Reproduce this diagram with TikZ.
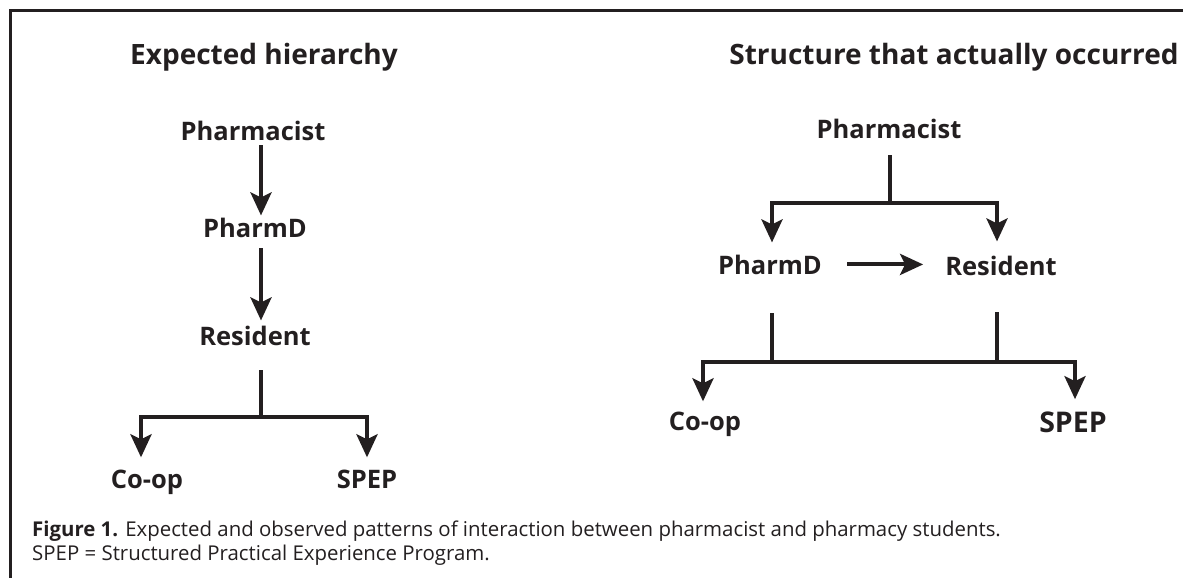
\documentclass[tikz,border=0pt]{standalone}
\usepackage{fontspec}
\setmainfont{Open Sans}
\usetikzlibrary{arrows.meta}
\definecolor{tisk}{HTML}{231F20}
\begin{document}
\begin{tikzpicture}[x=1pt,y=-1pt]
	\tikzstyle{role} = [font=\bfseries\fontsize{25.5}{30}\selectfont, text=tisk, anchor=base, inner sep=0pt]
	\tikzstyle{nadpis} = [font=\bfseries\fontsize{28}{34}\selectfont, text=tisk, anchor=base, inner sep=0pt]
	\tikzstyle{popis} = [font=\fontsize{20.4}{24}\selectfont, text=tisk, anchor=base west, inner sep=0pt]
	\tikzstyle{link} = [draw=tisk, line width=4pt]
	\tikzstyle{arrow} = [link, -{Stealth[length=23pt,width=21pt,inset=5pt]}]
	\useasboundingbox (0,0) rectangle (1183,578);
	\draw [tisk, line width=2.7pt] (1183,10.5) -- (10.5,10.5) -- (10.5,578);

	% expected hierarchy
	\node (ltitle) [nadpis] at (264,65) {Expected hierarchy};
	\node (lph) [role] at (253,140) {Pharmacist};
	\node (lpd) [role] at (255,237) {PharmD};
	\node (lres) [role] at (255,345) {Resident};
	\node (lcoop) [role] at (147,488) {Co-op};
	\node (lspep) [role] at (367,488) {SPEP};
	\coordinate (lsplit) at (261,417);

	\draw [arrow, shorten <=5pt, shorten >=2pt] (lph.south -| lsplit) -- (lpd.north -| lsplit);
	\draw [arrow, shorten <=11pt, shorten >=5pt] (lpd.south -| lsplit) -- (lres.north -| lsplit);
	\draw [link, shorten <=25pt] (lres.south -| lsplit) -- (lsplit);
	\draw [arrow, shorten >=12pt] (lsplit) -| ([xshift=-6pt]lcoop.north);
	\draw [arrow, shorten >=12pt] (lsplit) -| (lspep.north);

	% what actually happened
	\node (rtitle) [nadpis] at (954,65) {Structure that actually occurred};
	\node (rph) [role] at (889,138) {Pharmacist};
	\node (rpd) [role] at (770,274) {PharmD};
	\node (rres) [role] at (1001,275) {Resident};
	\node (rcoop) [role] at (705,430) {Co-op};
	\node (rspep) [role, font=\bfseries\fontsize{28.5}{34}\selectfont] at (1073,432) {SPEP};
	\coordinate (rsplit) at (890,203);
	\coordinate (rjoinA) at (772,362);
	\coordinate (rjoinB) at (997,362);

	\draw [link, shorten <=17pt] (rph.south -| rsplit) -- (rsplit);
	\draw [arrow, shorten >=12pt] (rsplit) -| ([xshift=2pt]rpd.north);
	\draw [arrow, shorten >=14pt] (rsplit) -| ([xshift=-4pt]rres.north);
	\draw [arrow, shorten <=25pt, shorten >=22pt] (rpd.east) -- (rpd.east -| rres.west);
	\draw [link, shorten <=39pt] (rpd.south -| rjoinA) -- (rjoinA);
	\draw [link, shorten <=37pt] (rres.south -| rjoinB) -- (rjoinB);
	\draw [arrow, shorten >=10pt] (rjoinB) -| ([xshift=-2pt]rcoop.north);
	\draw [arrow, shorten >=12pt] (rjoinA) -| ([xshift=2pt]rspep.north);

	% caption
	\node (cap1) [popis] at (32,536) {\textbf{Figure 1.} Expected and observed patterns of interaction between pharmacist and pharmacy students.};
	\node (cap2) [popis] at (32,560) {SPEP = Structured Practical Experience Program.};
\end{tikzpicture}
\end{document}
